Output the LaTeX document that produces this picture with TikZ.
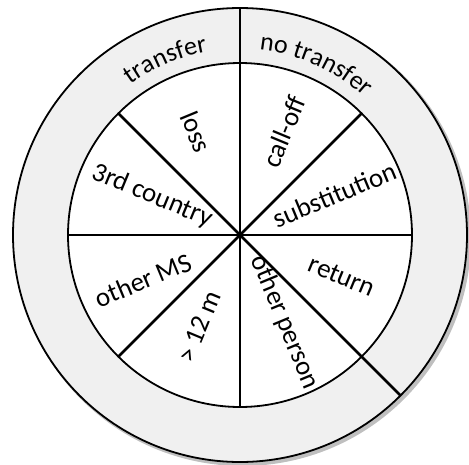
\documentclass[tikz,border=0pt]{standalone}
\usepackage{fontspec}
\setmainfont{Carlito}
\usetikzlibrary{decorations.text}
\begin{document}
\begin{tikzpicture}[x=1pt,y=1pt,
  spoke/.style={line width=2.6pt},
  rim/.style={line width=1.8pt},
  lab/.style={font=\fontsize{27}{27}\selectfont, inner sep=0pt},
  ringtext/.style={decorate, decoration={text along path, text align=center, text={#1}}}]
\useasboundingbox (0,0) rectangle (469,-464);
\coordinate (C) at (240,-235);
% shadow
\fill[black, opacity=0.25] ([shift={(2.5,-2.5)}]C) circle (228.5);
% rings
\filldraw[fill=black!6, rim] (C) circle (227);
\filldraw[fill=white, rim] (C) circle (172);
% spokes
\draw[spoke] (C) -- ++(90:227);
\draw[spoke] (C) -- ++(-45:227);
\foreach \a in {45,0,-90,-135,180,135}
  \draw[spoke] (C) -- ++(\a:172);
% ring labels
\path[ringtext={|\fontsize{26}{26}\selectfont|transfer}] ([shift={(150:186)}]C) arc (150:76:186);
\path[ringtext={|\fontsize{26}{26}\selectfont|no transfer}] ([shift={(105:186)}]C) arc (105:27:186);
% sector labels
\node[lab, rotate=-67.5] (loss) at ([shift={(113:112)}]C) {loss};
\node[lab, rotate=67.5] (calloff) at ([shift={(67:112)}]C) {call-off};
\node[lab, rotate=22.5] (subst) at ([shift={(23:103)}]C) {substitution};
\node[lab, rotate=-22.5] (return) at ([shift={(-22:110)}]C) {return};
\node[lab, rotate=-67.5] (otherperson) at ([shift={(-63:98)}]C) {other person};
\node[lab, rotate=67.5] (twelve) at ([shift={(-114:100)}]C) {> 12 m};
\node[lab, rotate=22.5] (otherms) at ([shift={(-155:107)}]C) {other MS};
\node[lab, rotate=-22.5] (third) at ([shift={(156:96)}]C) {3rd country};
\end{tikzpicture}
\end{document}
